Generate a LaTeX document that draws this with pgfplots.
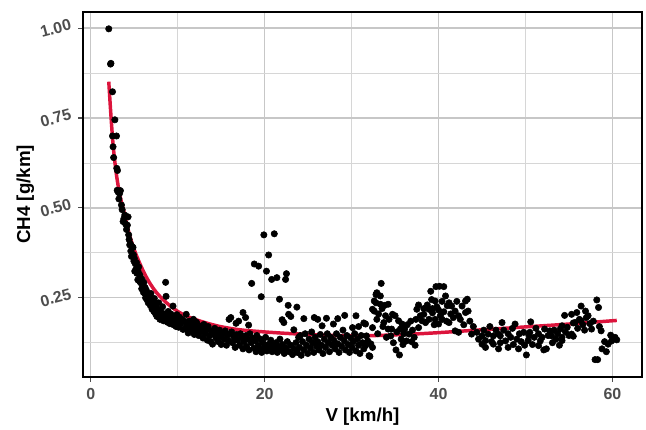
\documentclass[border=0pt]{standalone}
\usepackage{fontspec}
\setmainfont{Liberation Sans}
\usepackage{pgfplots}
\pgfplotsset{compat=1.18}
\definecolor{tickgray}{HTML}{4D4D4D}
\definecolor{fitred}{HTML}{DC143C}
\begin{document}
\begin{tikzpicture}
\begin{axis}[
  width=402.5pt, height=262.8pt, scale only axis,
  xmin=-0.9, xmax=63.4, ymin=0.03, ymax=1.045,
  xtick={0,20,40,60}, ytick={0.25,0.5,0.75,1},
  minor xtick={10,30,50}, minor ytick={0.125,0.375,0.625,0.875},
  grid=both,
  major grid style={line width=0.9pt, color=black!22},
  minor grid style={line width=0.5pt, color=black!16},
  axis line style={line width=1.3pt},
  tick align=outside, tick pos=left,
  major tick length=3.5pt, minor tick length=0pt,
  tick style={tickgray, line width=0.8pt},
  xticklabel style={font=\fontsize{11.5}{13}\selectfont\bfseries, color=tickgray, yshift=-1pt},
  yticklabel style={font=\fontsize{11.5}{13}\selectfont\bfseries, color=tickgray, rotate=15},
  /pgf/number format/assume math mode=true,
  y tick label style={/pgf/number format/.cd, fixed, fixed zerofill, precision=2},
  x tick label style={/pgf/number format/.cd, fixed, precision=0},
  xlabel={V [km/h]}, ylabel={CH4 [g/km]},
  label style={font=\fontsize{13.5}{15}\selectfont\bfseries},
  xlabel style={yshift=1pt},
  ylabel style={yshift=-4pt},
]
% measured points
\addplot[only marks, mark=*, mark size=2.3pt, color=black] coordinates {
(2.06,0.998) (2.26,0.900) (2.31,0.902) (2.49,0.823) (2.76,0.745) (2.49,0.700) (2.95,0.700)
(2.55,0.670) (2.62,0.640) (3.06,0.604) (2.98,0.610) (3.14,0.544) (3.30,0.540) (3.03,0.549)
(3.40,0.548) (3.22,0.525) (3.52,0.508) (3.60,0.495) (3.71,0.462) (3.90,0.480) (3.80,0.470)
(4.28,0.475) (4.10,0.440) (4.20,0.452) (4.00,0.455) (4.35,0.425) (4.47,0.397) (4.40,0.412)
(4.55,0.400) (4.67,0.365) (4.60,0.380) (4.75,0.392) (4.85,0.390) (4.90,0.370) (4.95,0.352)
(5.05,0.324) (5.00,0.360) (5.10,0.345) (5.20,0.330) (5.25,0.348) (5.30,0.318) (5.40,0.300)
(5.45,0.322) (5.50,0.336) (5.60,0.315) (5.62,0.295) (5.70,0.308) (5.80,0.290) (5.85,0.275)
(5.90,0.300) (6.00,0.282) (6.05,0.265) (6.10,0.292) (6.20,0.262) (6.25,0.278) (6.30,0.250)
(6.40,0.270) (6.45,0.245) (6.50,0.258) (6.60,0.236) (6.65,0.252) (6.77,0.246) (6.85,0.228)
(6.90,0.262) (7.00,0.240) (7.05,0.218) (7.15,0.232) (7.25,0.212) (7.30,0.248) (7.40,0.235)
(7.45,0.205) (7.55,0.222) (7.60,0.198) (7.70,0.215) (7.80,0.236) (7.90,0.204) (7.95,0.190)
(8.05,0.212) (8.15,0.196) (8.25,0.225) (8.35,0.186) (8.45,0.205) (8.60,0.293) (8.65,0.254)
(8.70,0.198) (8.80,0.182) (8.90,0.212) (9.00,0.192) (9.10,0.178) (9.20,0.205) (9.30,0.188)
(9.45,0.227) (9.50,0.175) (9.60,0.198) (9.70,0.186) (9.80,0.170) (9.90,0.203) (10.0,0.182)
(10.1,0.168) (10.2,0.196) (10.35,0.178) (10.5,0.190) (10.6,0.162) (10.75,0.185) (10.97,0.204)
(11.0,0.172) (11.1,0.160) (11.2,0.152) (11.3,0.185) (11.45,0.168) (11.6,0.178) (11.7,0.158)
(11.8,0.190) (11.9,0.148) (12.0,0.170) (12.15,0.182) (12.25,0.160) (12.4,0.145) (12.5,0.172)
(12.65,0.155) (12.8,0.165) (12.9,0.138) (13.0,0.176) (13.15,0.150) (13.3,0.160) (13.4,0.132)
(13.5,0.170) (13.65,0.145) (13.8,0.128) (13.9,0.158) (14.0,0.121) (14.1,0.148) (14.25,0.165)
(14.4,0.138) (14.5,0.152) (14.65,0.128) (14.8,0.160) (14.9,0.142) (15.0,0.120) (15.15,0.150)
(15.3,0.135) (15.45,0.158) (15.6,0.118) (15.7,0.145) (15.9,0.190) (15.85,0.130) (16.0,0.150)
(16.1,0.195) (16.2,0.155) (16.3,0.125) (16.45,0.140) (16.6,0.112) (16.7,0.179) (16.75,0.148)
(16.9,0.132) (17.0,0.185) (17.1,0.118) (17.2,0.150) (17.35,0.140) (17.5,0.209) (17.5,0.108)
(17.6,0.128) (17.8,0.195) (17.85,0.145) (17.9,0.115) (18.0,0.135) (18.15,0.174) (18.2,0.105)
(18.3,0.150) (18.5,0.290) (18.45,0.125) (18.6,0.138) (18.75,0.110) (18.8,0.344) (18.9,0.130)
(19.0,0.100) (19.1,0.145) (19.3,0.338) (19.25,0.118) (19.4,0.108) (19.5,0.135) (19.6,0.253)
(19.65,0.098) (19.8,0.125) (19.9,0.425) (19.95,0.112) (20.1,0.140) (20.2,0.324) (20.25,0.102)
(20.45,0.369) (20.4,0.120) (20.55,0.108) (20.7,0.132) (20.8,0.301) (20.85,0.100) (21.0,0.118)
(21.1,0.428) (21.15,0.106) (21.3,0.125) (21.4,0.306) (21.45,0.098) (21.6,0.115) (21.7,0.246)
(21.75,0.135) (21.9,0.104) (22.0,0.189) (22.05,0.120) (22.2,0.181) (22.25,0.095) (22.4,0.301)
(22.5,0.317) (22.45,0.110) (22.6,0.128) (22.7,0.229) (22.75,0.204) (22.8,0.100) (23.0,0.198)
(23.0,0.118) (23.2,0.092) (23.35,0.161) (23.4,0.108) (23.6,0.125) (23.7,0.224) (23.75,0.098)
(23.9,0.140) (24.0,0.112) (24.1,0.145) (24.2,0.090) (24.35,0.128) (24.5,0.192) (24.5,0.105)
(24.65,0.150) (24.8,0.118) (24.95,0.095) (25.1,0.135) (25.25,0.110) (25.4,0.155) (25.5,0.125)
(25.7,0.195) (25.65,0.098) (25.8,0.140) (25.95,0.115) (26.1,0.190) (26.1,0.128) (26.25,0.105)
(26.4,0.148) (26.6,0.172) (26.55,0.118) (26.7,0.095) (26.85,0.135) (27.0,0.112) (27.1,0.193)
(27.2,0.150) (27.3,0.125) (27.45,0.100) (27.6,0.140) (27.75,0.118) (27.9,0.177) (27.95,0.132)
(28.1,0.108) (28.25,0.150) (28.4,0.192) (28.4,0.122) (28.55,0.098) (28.7,0.140) (28.85,0.115)
(29.0,0.160) (29.2,0.201) (29.15,0.130) (29.3,0.105) (29.45,0.145) (29.6,0.120) (29.75,0.098)
(29.9,0.138) (30.1,0.167) (30.05,0.112) (30.2,0.128) (30.35,0.150) (30.5,0.200) (30.5,0.102)
(30.65,0.135) (30.8,0.170) (30.8,0.118) (30.95,0.095) (31.1,0.145) (31.25,0.125) (31.4,0.180)
(31.4,0.108) (31.6,0.177) (31.6,0.117) (31.7,0.144) (31.85,0.130) (32.0,0.089) (32.1,0.087)
(32.2,0.122) (32.4,0.218) (32.4,0.167) (32.4,0.112) (32.6,0.241) (32.6,0.213) (32.8,0.259)
(32.8,0.236) (32.9,0.264) (32.9,0.190) (33.0,0.150) (33.1,0.205) (33.3,0.255) (33.3,0.232)
(33.4,0.290) (33.5,0.220) (33.6,0.170) (33.7,0.181) (33.8,0.229) (33.9,0.200) (34.0,0.140)
(34.2,0.232) (34.2,0.163) (34.3,0.190) (34.5,0.144) (34.6,0.163) (34.7,0.204) (34.8,0.125)
(35.0,0.200) (35.1,0.105) (35.2,0.155) (35.4,0.186) (35.5,0.091) (35.6,0.163) (35.7,0.135)
(35.8,0.177) (35.9,0.120) (36.0,0.150) (36.1,0.163) (36.3,0.130) (36.4,0.175) (36.6,0.149)
(36.8,0.185) (36.9,0.128) (37.0,0.160) (37.2,0.140) (37.3,0.118) (37.4,0.190) (37.5,0.218)
(37.7,0.167) (37.7,0.230) (37.9,0.200) (38.1,0.186) (38.3,0.220) (38.3,0.204) (38.5,0.181)
(38.7,0.230) (38.9,0.218) (38.9,0.190) (39.1,0.268) (39.2,0.245) (39.3,0.208) (39.3,0.220)
(39.5,0.175) (39.6,0.241) (39.6,0.190) (39.7,0.281) (39.8,0.225) (40.0,0.216) (40.0,0.177)
(40.1,0.282) (40.2,0.200) (40.4,0.190) (40.4,0.240) (40.6,0.281) (40.6,0.211) (40.8,0.255)
(40.9,0.185) (41.0,0.228) (41.2,0.236) (41.2,0.181) (41.4,0.205) (41.5,0.227) (41.7,0.195)
(41.9,0.213) (41.9,0.158) (42.1,0.240) (42.3,0.154) (42.3,0.200) (42.5,0.190) (42.7,0.227)
(42.9,0.175) (43.1,0.241) (43.1,0.209) (43.3,0.246) (43.4,0.213) (43.6,0.185) (43.8,0.149)
(44.0,0.170) (44.4,0.154) (44.6,0.135) (45.0,0.144) (45.0,0.121) (45.2,0.160) (45.4,0.131)
(45.4,0.112) (45.7,0.149) (45.9,0.170) (46.1,0.128) (46.3,0.144) (46.3,0.121) (46.6,0.160)
(46.9,0.149) (46.9,0.108) (47.1,0.144) (47.1,0.125) (47.3,0.181) (47.5,0.160) (47.7,0.130)
(48.0,0.112) (48.0,0.150) (48.3,0.140) (48.5,0.165) (48.6,0.120) (48.8,0.177) (49.0,0.135)
(49.2,0.108) (49.3,0.150) (49.5,0.128) (49.8,0.154) (49.9,0.118) (50.1,0.091) (50.3,0.131)
(50.4,0.145) (50.5,0.154) (50.6,0.183) (50.8,0.120) (51.0,0.140) (51.2,0.165) (51.5,0.117)
(51.5,0.150) (51.7,0.130) (51.9,0.140) (52.1,0.105) (52.2,0.163) (52.4,0.108) (52.6,0.145)
(52.8,0.158) (53.0,0.144) (53.1,0.125) (53.3,0.160) (53.5,0.135) (53.7,0.150) (53.9,0.118)
(54.0,0.163) (54.2,0.172) (54.2,0.140) (54.2,0.131) (54.5,0.201) (54.6,0.155) (54.8,0.168)
(55.0,0.145) (55.3,0.204) (55.3,0.149) (55.5,0.143) (55.5,0.180) (55.7,0.181) (55.9,0.209)
(56.0,0.165) (56.2,0.190) (56.4,0.186) (56.4,0.227) (56.6,0.175) (56.8,0.160) (56.9,0.213)
(57.0,0.195) (57.2,0.200) (57.4,0.178) (57.6,0.163) (57.8,0.185) (58.0,0.078) (58.2,0.244)
(58.3,0.078) (58.4,0.223) (58.5,0.170) (58.7,0.158) (58.8,0.108) (59.1,0.128) (59.3,0.100)
(59.5,0.121) (59.8,0.146) (59.9,0.130) (60.1,0.135) (60.3,0.140) (60.5,0.133)
};
% fitted curve
\addplot[color=fitred, line width=2.5pt, smooth] coordinates {
(2.06,0.851) (2.3,0.760) (2.57,0.672) (2.9,0.600) (3.2,0.553) (3.5,0.518) (3.8,0.490)
(4.1,0.458) (4.5,0.420) (5.0,0.383) (5.6,0.347) (6.2,0.316) (6.8,0.290) (7.5,0.266)
(8.3,0.245) (9.2,0.226) (10.2,0.209) (11.5,0.194) (13.0,0.182) (14.5,0.172) (16.0,0.165)
(17.5,0.160) (20.0,0.155) (22.5,0.151) (25.0,0.148) (28.0,0.145) (31.0,0.144) (34.0,0.146)
(37.0,0.149) (40.0,0.153) (45.0,0.161) (50.0,0.169) (55.0,0.177) (60.5,0.187)
};
\end{axis}
\path ([shift={(-59.8pt,-35.3pt)}]current axis.south west) rectangle ([shift={(2.9pt,8.6pt)}]current axis.north east);
\end{tikzpicture}
\end{document}
